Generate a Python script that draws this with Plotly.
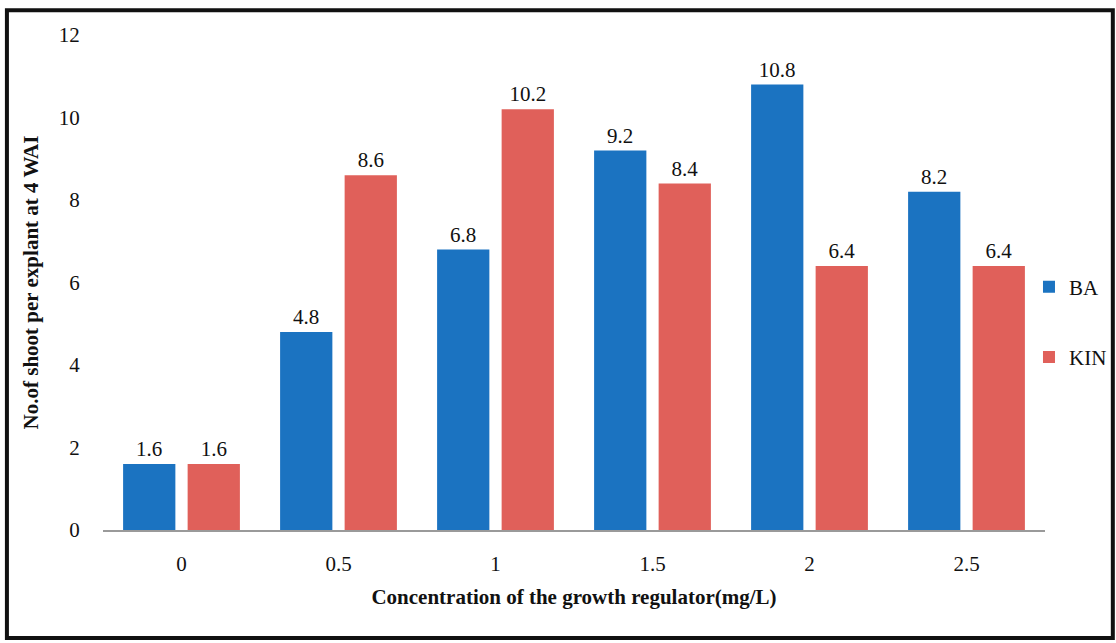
import plotly.graph_objects as go

concentrations = ["0", "0.5", "1", "1.5", "2", "2.5"]
ba_values = [1.6, 4.8, 6.8, 9.2, 10.8, 8.2]
kin_values = [1.6, 8.6, 10.2, 8.4, 6.4, 6.4]
y_ticks = [0, 2, 4, 6, 8, 10, 12]

serif = "Liberation Serif, Times New Roman, serif"

fig = go.Figure()
fig.add_trace(go.Bar(
    x=concentrations, y=ba_values, name="BA", legendgroup="ba",
    marker=dict(color="#1b73c1", line=dict(width=0)),
    text=[f"{v:g}" for v in ba_values], textposition="outside",
    textfont=dict(family=serif, size=21, color="#111"), cliponaxis=False,
))
fig.add_trace(go.Bar(
    x=concentrations, y=kin_values, name="KIN", legendgroup="kin",
    marker=dict(color="#e0605a", line=dict(width=0)),
    text=[f"{v:g}" for v in kin_values], textposition="outside",
    textfont=dict(family=serif, size=21, color="#111"), cliponaxis=False,
))

fig.update_layout(
    width=1116, height=643,
    margin=dict(l=103, r=71, t=35, b=113, autoexpand=False),
    paper_bgcolor="white", plot_bgcolor="white",
    bargap=0.178, bargroupgap=0.19,
    font=dict(family=serif, size=21, color="#111"),
    showlegend=True,
    legend=dict(x=0.983, xanchor="left", y=0.42, yanchor="middle",
                font=dict(family=serif, size=21, color="#111"),
                tracegroupgap=40, itemwidth=30, bgcolor="rgba(0,0,0,0)"),
    xaxis=dict(
        showline=True, linecolor="#9a9a9a", linewidth=2,
        ticks="outside", ticklen=14, tickcolor="rgba(0,0,0,0)", showgrid=False,
        tickfont=dict(family=serif, size=21, color="#111"),
        title=dict(text="<b>Concentration of the growth regulator(mg/L)</b>",
                   font=dict(family=serif, size=21, color="#111"), standoff=14),
    ),
    yaxis=dict(
        range=[0, 12], tickvals=y_ticks, showgrid=False, zeroline=False,
        showline=False, ticks="outside", ticklen=18, tickcolor="rgba(0,0,0,0)",
        tickfont=dict(family=serif, size=21, color="#111"),
        title=dict(text="<b>No.of shoot per explant at 4 WAI</b>",
                   font=dict(family=serif, size=21, color="#111"), standoff=14),
    ),
)

# outer frame around the whole chart
fig.add_shape(type="rect", xref="paper", yref="paper",
              x0=-0.102, x1=1.072, y0=-0.218, y1=1.05,
              line=dict(color="#111", width=4), fillcolor="rgba(0,0,0,0)")

fig.write_html("out.html")
